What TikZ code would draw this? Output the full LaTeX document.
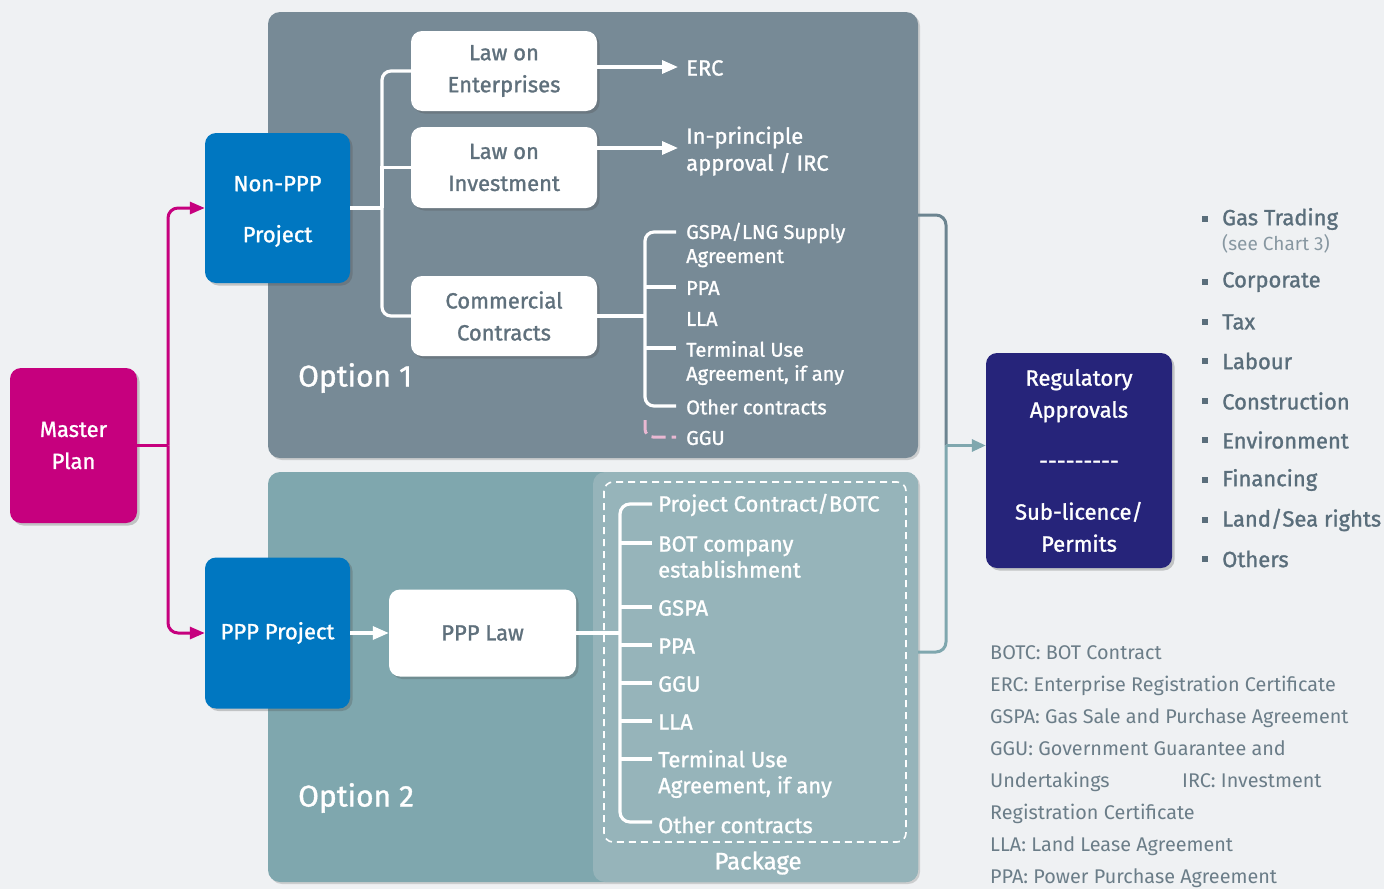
\documentclass[tikz,border=0pt]{standalone}
\usepackage{fontspec}
\setmainfont{Fira Sans}
\newfontfamily\medfont{Fira Sans}[FakeBold=1.2]
\usetikzlibrary{shadows,arrows.meta,calc}
\definecolor{bg}{HTML}{EFF1F3}
\definecolor{opone}{HTML}{778A96}
\definecolor{optwo}{HTML}{7FA7AE}
\definecolor{pack}{HTML}{96B4BA}
\definecolor{mplan}{HTML}{C6007E}
\definecolor{pblue}{HTML}{0077C1}
\definecolor{navy}{HTML}{26247A}
\definecolor{boxtxt}{HTML}{5F707C}
\definecolor{bultxt}{HTML}{5A6E7B}
\definecolor{legtxt}{HTML}{6B7D88}
\definecolor{chtxt}{HTML}{8797A1}
\definecolor{ggupink}{HTML}{E9B8D2}
\definecolor{slateline}{HTML}{6C8490}
\definecolor{tealline}{HTML}{7FA7AE}
\newcommand\hyph{-\kern0pt}
\begin{document}
\begin{tikzpicture}[x=1pt,y=-1pt,
  shad/.style={drop shadow={shadow xshift=2.5pt,shadow yshift=-2.5pt,opacity=0.28,fill=black!70}},
  box/.style={rounded corners=11pt,align=center,inner sep=0pt,shad,font=\medfont\fontsize{22}{32}\selectfont},
  wbox/.style={box,fill=white,text=boxtxt},
  cbox/.style={box,text=white},
  panel/.style={rounded corners=12pt,inner sep=0pt},
  opt/.style={text=white,anchor=west,inner sep=0pt,font=\medfont\fontsize{30}{36}\selectfont},
  itemA/.style={text=white,anchor=west,align=left,inner sep=0pt,font=\medfont\fontsize{20}{24}\selectfont},
  itemB/.style={text=white,anchor=west,align=left,inner sep=0pt,font=\medfont\fontsize{22}{26}\selectfont},
  bul/.style={text=bultxt,anchor=west,inner sep=0pt,font=\medfont\fontsize{22}{26}\selectfont},
  sq/.style={fill=bultxt,minimum size=6pt,inner sep=0pt},
  wline/.style={draw=white,line width=3.2pt},
  warrow/.style={wline,-{Triangle[length=16pt,width=13pt]}},
  mline/.style={draw=mplan,line width=3pt,rounded corners=10pt,-{Triangle[length=15pt,width=12pt]}},
]
\useasboundingbox (0,0) rectangle (1384,889);
\fill[bg] (0,0) rectangle (1384,889);

% panels
\node[panel,fill=opone,minimum width=650,minimum height=446,
  drop shadow={shadow xshift=2pt,shadow yshift=-2pt,opacity=0.15,fill=black}] (o1) at (593,235) {};
\node[panel,fill=optwo,minimum width=650,minimum height=410,
  drop shadow={shadow xshift=2pt,shadow yshift=-2pt,opacity=0.15,fill=black}] (o2) at (593,677) {};
\node[panel,fill=pack,minimum width=325,minimum height=410] (pk) at (755.5,677) {};
\draw[white,line width=1.6pt,dash pattern=on 7pt off 5pt,rounded corners=9pt] (604,482) rectangle (906,842);

\node[opt] (t1) at (298,378) {Option 1};
\node[opt] (t2) at (298,798) {Option 2};
\node[text=white,inner sep=0pt,font=\medfont\fontsize{24}{28}\selectfont] (pkl) at (758,863) {Package};

% boxes
\node[cbox,fill=mplan,minimum width=127,minimum height=155] (master) at (73.5,445.5) {Master\\Plan};
\node[cbox,fill=pblue,minimum width=145,minimum height=150] (nonppp) at (277.5,208) {\\[-10pt]Non-PPP\\[19pt]Project};
\node[cbox,fill=pblue,minimum width=145,minimum height=151] (ppp) at (277.5,633) {PPP Project};
\node[wbox,minimum width=186,minimum height=80] (lawe) at (504,71) {Law on\\Enterprises};
\node[wbox,minimum width=186,minimum height=81] (lawi) at (504,167.5) {Law on\\Investment};
\node[wbox,minimum width=186,minimum height=80] (comm) at (504,316) {Commercial\\Contracts};
\node[wbox,minimum width=187,minimum height=87] (pppl) at (482.5,633) {PPP Law};
\node[cbox,fill=navy,minimum width=186,minimum height=215] (reg) at (1079,460.5)
  {Regulatory\\Approvals\\[19pt]\hyph\hyph\hyph\hyph\hyph\hyph\hyph\hyph-\\[19pt]Sub-licence/\\Permits};

% master plan connectors
\coordinate (mj) at (168,445.5);
\draw[draw=mplan,line width=3pt] (master.east) -- (mj);
\draw[mline] (mj) |- (nonppp.west);
\draw[mline] (mj) |- (ppp.west);

% option 1 texts
\node[itemA,font=\medfont\fontsize{22}{26}\selectfont] (erc) at (686,68) {ERC};
\node[itemA,font=\medfont\fontsize{22}{27}\selectfont] (irc) at (686,151) {In-principle\\approval / IRC};
\node[itemA] (c1) at (686,245) {GSPA/LNG Supply\\Agreement};
\node[itemA] (c2) at (686,288) {PPA};
\node[itemA] (c3) at (686,319) {LLA};
\node[itemA] (c4) at (686,363) {Terminal Use\\Agreement, if any};
\node[itemA] (c5) at (686,407) {Other contracts};
\node[itemA] (c6) at (686,438) {GGU};

% non-PPP bracket
\coordinate (nj) at (382,208);
\draw[wline] (nonppp.east) -- (nj);
\draw[wline,rounded corners=9pt] (lawe.west) -| (nj) |- (comm.west);
\draw[wline] (nj) |- (lawi.west);
\draw[warrow] (lawe.east |- 0,67) -- ([xshift=-8pt]erc.west |- 0,67);
\draw[warrow] (lawi.east |- 0,148) -- ([xshift=-8pt]irc.west |- 0,148);

% commercial bracket
\coordinate (cj) at (645,316);
\coordinate (b1) at (676,232);
\coordinate (b2) at (676,287);
\coordinate (b3) at (676,317);
\coordinate (b4) at (676,348);
\coordinate (b5) at (676,406);
\draw[wline] (comm.east) -- (cj);
\draw[wline,rounded corners=9pt] (b1) -| (cj) |- (b5);
\draw[wline] (cj |- b2) -- (b2);
\draw[wline] (cj |- b4) -- (b4);
\draw[draw=ggupink,line width=3pt,dash pattern=on 14pt off 6pt,rounded corners=8pt] (645,420) |- (676,437);

% option 2 list
\node[itemB] (p1) at (658,505) {Project Contract/BOTC};
\node[itemB] (p2) at (658,557) {BOT company\\establishment};
\node[itemB] (p3) at (658,608) {GSPA};
\node[itemB] (p4) at (658,646) {PPA};
\node[itemB] (p5) at (658,684) {GGU};
\node[itemB] (p6) at (658,722) {LLA};
\node[itemB] (p7) at (658,774) {Terminal Use\\Agreement, if any};
\node[itemB] (p8) at (658,825) {Other contracts};

\draw[warrow] (ppp.east) -- (pppl.west);
\coordinate (qj) at (620,633);
\coordinate (q1) at (652,504);
\coordinate (q8) at (652,822);
\draw[wline] (pppl.east) -- (qj);
\draw[wline,rounded corners=10pt] (q1) -| (qj) |- (q8);
\foreach \yy in {543,607,645,683,721,759} \draw[wline] (620,\yy) -- (652,\yy);

% right connector
\coordinate (rj) at (946,445.5);
\draw[draw=slateline,line width=3pt,rounded corners=10pt] (918,215) -| (rj);
\draw[draw=tealline,line width=3pt,rounded corners=10pt] (918,652) -| (rj);
\draw[draw=tealline,line width=3pt,-{Triangle[length=14pt,width=12pt]}] (rj) -- (reg.west |- rj);

% bullets
\foreach \yy/\tt [count=\i] in {219/Gas Trading,282/Corporate,322/Tax,361/Labour,401/Construction,440/Environment,480/Financing,520/Land\slash Sea rights,559/Others}{
  \node[sq] (s\i) at (1205,\yy) {};
  \node[bul] (bt\i) at (1222,\yy) {\tt};
}
\node[anchor=west,inner sep=0pt,text=chtxt,font=\fontsize{19}{22}\selectfont] (see) at (1222,244) {(see Chart 3)};

% legend
\node[anchor=west,align=left,inner sep=0pt,text=legtxt,font=\fontsize{19.8}{32}\selectfont] (leg) at (990,767)
 {BOTC: BOT Contract\\
  ERC: Enterprise Registration Certificate\\
  GSPA: Gas Sale and Purchase Agreement\\
  GGU: Government Guarantee and\\
  \makebox[192pt][l]{Undertakings}IRC: Investment\\
  Registration Certificate\\
  LLA: Land Lease Agreement\\
  PPA: Power Purchase Agreement};
\end{tikzpicture}
\end{document}
